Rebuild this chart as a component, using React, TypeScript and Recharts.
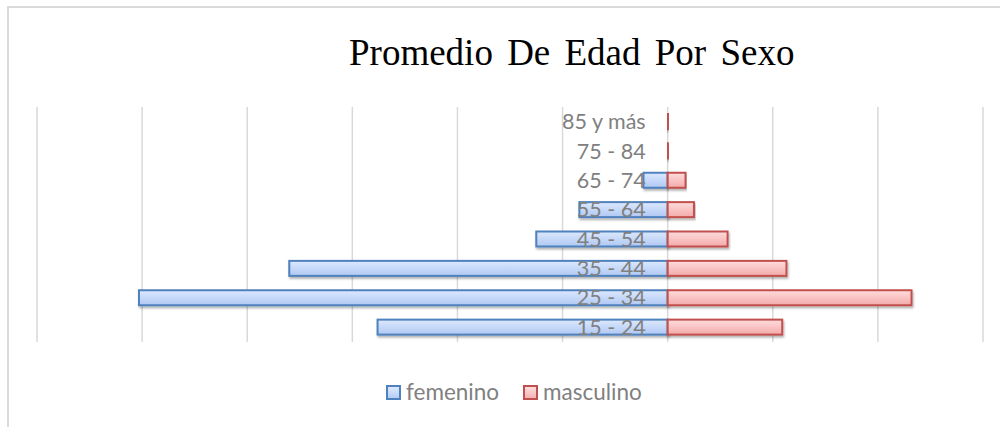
import { BarChart, Bar, XAxis, YAxis, CartesianGrid, LabelList, Legend } from 'recharts';

// grupos de edad, de abajo hacia arriba
const grupos = ['15 - 24', '25 - 34', '35 - 44', '45 - 54', '55 - 64', '65 - 74', '75 - 84', '85 y más'];
const femenino = [27.6, 50.3, 36.0, 12.5, 8.4, 2.3, 0.05, 0.05];
const masculino = [10.9, 23.2, 11.3, 5.7, 2.5, 1.7, 0.05, 0.05];
const ticksX = [-60, -50, -40, -30, -20, -10, 0, 10, 20, 30];

const data = grupos.map((g, i) => ({
  grupo: g,
  femenino: -femenino[i],
  masculino: masculino[i],
}));

const series = [
  { key: 'femenino', fill: 'url(#gradFem)', stroke: '#4f81bd' },
  { key: 'masculino', fill: 'url(#gradMas)', stroke: '#c0504d' },
];

function BarShape(props: any) {
  const { x, y, width, height, fill, stroke } = props;
  const x0 = Math.min(x, x + width);
  const w = Math.abs(width);
  return (
    <rect x={x0} y={y} width={w} height={height} fill={fill} stroke={stroke} strokeWidth={2} filter="url(#sombra)" />
  );
}

function Leyenda() {
  return (
    <div style={{ display: 'flex', alignItems: 'center', fontFamily: 'Lato, sans-serif', fontSize: 22.5, color: '#808080', lineHeight: '24px' }}>
      {series.map((s, i) => (
        <div key={s.key} style={{ display: 'flex', alignItems: 'center', marginRight: i === 0 ? 24 : 0 }}>
          <span
            style={{
              display: 'inline-block',
              width: 11,
              height: 11,
              border: `2px solid ${s.stroke}`,
              background: i === 0 ? 'linear-gradient(#dce9ff, #b7cdf3)' : 'linear-gradient(#ffdcdc, #f4b3b3)',
              marginRight: 5,
            }}
          />
          {s.key}
        </div>
      ))}
    </div>
  );
}

export default function App() {
  return (
    <div style={{ position: 'absolute', left: 0, top: 0, width: 1000, height: 427, background: '#fff', overflow: 'hidden' }}>
      <div style={{ position: 'absolute', left: 7, top: 6, width: 1000, height: 440, border: '2px solid #d9d9d9' }} />
      <div
        style={{
          position: 'absolute',
          left: 349,
          top: 34,
          fontFamily: '"Liberation Serif", serif',
          fontSize: 37,
          lineHeight: 1,
          wordSpacing: 5,
          color: '#000',
          whiteSpace: 'nowrap',
        }}
      >
        Promedio De Edad Por Sexo
      </div>
      <div style={{ position: 'absolute', left: 0, top: 0 }}>
        <BarChart
          width={1000}
          height={427}
          data={data}
          layout="vertical"
          stackOffset="sign"
          barSize={15}
          margin={{ top: 107, right: 17, bottom: 61, left: 37 }}
        >
          <defs>
            <linearGradient id="gradFem" x1="0" y1="0" x2="0" y2="1">
              <stop offset="0%" stopColor="#dce9ff" />
              <stop offset="100%" stopColor="#afc8f2" />
            </linearGradient>
            <linearGradient id="gradMas" x1="0" y1="0" x2="0" y2="1">
              <stop offset="0%" stopColor="#ffdcdc" />
              <stop offset="100%" stopColor="#f3aaaa" />
            </linearGradient>
            <filter id="sombra" x="-5%" y="-30%" width="110%" height="180%">
              <feDropShadow dx="1" dy="2" stdDeviation="1.2" floodColor="#000" floodOpacity="0.3" />
            </filter>
          </defs>
          <CartesianGrid horizontal={false} stroke="#d9d9d9" strokeWidth={1.5} />
          <XAxis type="number" domain={[-60, 30]} ticks={ticksX} hide />
          <YAxis type="category" dataKey="grupo" reversed hide />
          <Legend
            verticalAlign="bottom"
            content={() => <Leyenda />}
            wrapperStyle={{ position: 'absolute', left: 386, top: 380, width: 'auto', bottom: 'auto' }}
          />
          {series.map((s) => (
            <Bar
              key={s.key}
              dataKey={s.key}
              stackId="a"
              fill={s.fill}
              stroke={s.stroke}
              shape={BarShape}
              isAnimationActive={false}
            >
              {s.key === 'masculino' && (
                <LabelList
                  dataKey="grupo"
                  position="left"
                  offset={22}
                  fill="#808080"
                  style={{ fontFamily: 'Lato, sans-serif', fontSize: 21.5 }}
                />
              )}
            </Bar>
          ))}
        </BarChart>
      </div>
    </div>
  );
}
